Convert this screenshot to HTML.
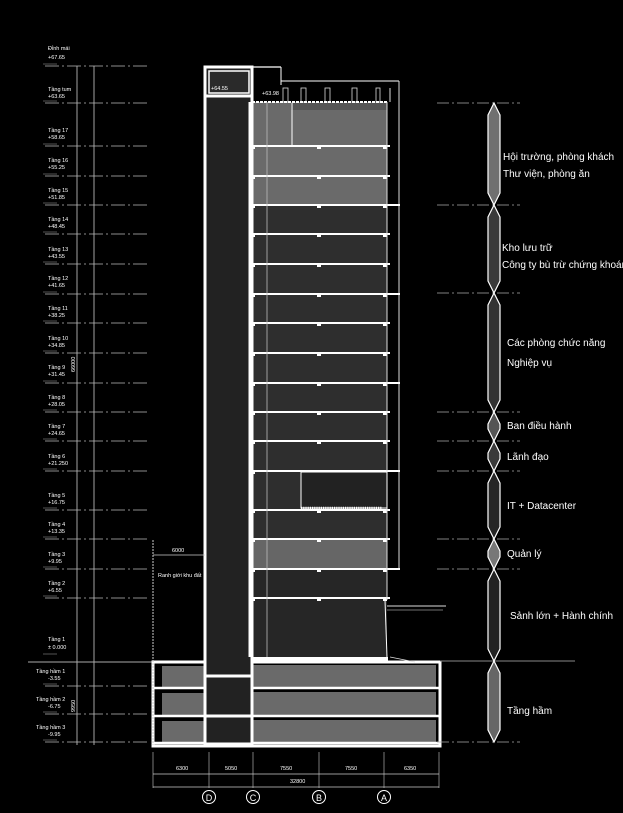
<!DOCTYPE html>
<html><head><meta charset="utf-8"><style>
html,body{margin:0;padding:0;background:#000;width:623px;height:813px;overflow:hidden}
svg{display:block}
text{font-family:"Liberation Sans",sans-serif;fill:#fff}
.s{font-size:5.5px}
.r{font-size:10px}
</style></head><body>
<svg id="g" width="623" height="813" viewBox="0 0 623 813" xmlns="http://www.w3.org/2000/svg">
<g id="shp"></g>
<g class="s">
<text x="48" y="50">Đỉnh mái</text><text x="48" y="59">+67.65</text>
<text x="48" y="91">Tầng tum</text><text x="48" y="98">+63.65</text>
<text x="48" y="132">Tầng 17</text><text x="48" y="139">+58.65</text>
<text x="48" y="162">Tầng 16</text><text x="48" y="169">+55.25</text>
<text x="48" y="192">Tầng 15</text><text x="48" y="199">+51.85</text>
<text x="48" y="221">Tầng 14</text><text x="48" y="228">+48.45</text>
<text x="48" y="251">Tầng 13</text><text x="48" y="258">+43.55</text>
<text x="48" y="280">Tầng 12</text><text x="48" y="287">+41.65</text>
<text x="48" y="310">Tầng 11</text><text x="48" y="317">+38.25</text>
<text x="48" y="340">Tầng 10</text><text x="48" y="347">+34.85</text>
<text x="48" y="369">Tầng 9</text><text x="48" y="376">+31.45</text>
<text x="48" y="399">Tầng 8</text><text x="48" y="406">+28.05</text>
<text x="48" y="428">Tầng 7</text><text x="48" y="435">+24.65</text>
<text x="48" y="458">Tầng 6</text><text x="48" y="465">+21.250</text>
<text x="48" y="497">Tầng 5</text><text x="48" y="504">+16.75</text>
<text x="48" y="526">Tầng 4</text><text x="48" y="533">+13.35</text>
<text x="48" y="556">Tầng 3</text><text x="48" y="563">+9.95</text>
<text x="48" y="585">Tầng 2</text><text x="48" y="592">+6.55</text>
<text x="48" y="641">Tầng 1</text><text x="48" y="649">± 0.000</text>
<text x="36" y="673">Tầng hầm 1</text><text x="48" y="680">-3.55</text>
<text x="36" y="701">Tầng hầm 2</text><text x="48" y="708">-6.75</text>
<text x="36" y="729">Tầng hầm 3</text><text x="48" y="736">-9.95</text>
<text transform="translate(75,372) rotate(-90)">66000</text>
<text transform="translate(75,712) rotate(-90)">9950</text>
<text x="172" y="552">6000</text>
<text x="158" y="577">Ranh giới khu đất</text>
<text x="176" y="770">6300</text><text x="225" y="770">5050</text><text x="280" y="770">7550</text><text x="345" y="770">7550</text><text x="404" y="770">6350</text>
<text x="290" y="783">32800</text>
<text x="211" y="90">+64.55</text><text x="262" y="95">+63.98</text>
</g>
<g font-size="9" text-anchor="middle">
<text x="209" y="801">D</text><text x="253" y="801">C</text><text x="319" y="801">B</text><text x="384" y="801">A</text>
</g>
<g class="r">
<text x="503" y="160">Hội trường, phòng khách</text>
<text x="503" y="177">Thư viện, phòng ăn</text>
<text x="502" y="251">Kho lưu trữ</text>
<text x="502" y="268">Công ty bù trừ chứng khoán</text>
<text x="507" y="346">Các phòng chức năng</text>
<text x="507" y="366">Nghiệp vụ</text>
<text x="507" y="429">Ban điều hành</text>
<text x="507" y="460">Lãnh đạo</text>
<text x="507" y="509">IT + Datacenter</text>
<text x="507" y="557">Quản lý</text>
<text x="510" y="619">Sảnh lớn + Hành chính</text>
<text x="507" y="714">Tầng hầm</text>
</g>
</svg>
<script>
const NS='http://www.w3.org/2000/svg';const G=document.getElementById('shp');
function A(t,a){const e=document.createElementNS(NS,t);for(const k in a)e.setAttribute(k,a[k]);G.appendChild(e);}
function l(x1,y1,x2,y2,c,w,d){const o={x1,y1,x2,y2,stroke:c||'#fff','stroke-width':w||1};if(d)o['stroke-dasharray']=d;A('line',o);}
function r(x,y,w,h,f,s,sw){A('rect',{x,y,width:w,height:h,fill:f,stroke:s||'none','stroke-width':sw||0});}
const lv=[66,103,146,176,205,234,264,294,323,353,383,412,441,471,510,539,569,598,656,686,714,742];
// left dim lines
l(77,66,77,745,'#ccc',0.8);l(94,66,94,745,'#ccc',0.8);
lv.forEach(y=>{if(y!==656)l(45,y,150,y,'#bbb',0.8,'14 3 2 3');l(43,y-2,57,y-2,'#aaa',0.5);});
l(28,662,153,662,'#aaa',1);
// basement
r(153,662,287,84,'#000','#fff',3);
[[662,687],[689,715],[717,742]].forEach(a=>{r(162,a[0]+4,43,a[1]-a[0]-4,'#6a6a6a');r(253,a[0]+3,183,a[1]-a[0]-3,'#6a6a6a');l(153,a[1]+1,440,a[1]+1,'#fff',2.5);});
// building backgrounds
r(250,102,137,103,'#6a6a6a');
r(250,205,137,334,'#2e2e2e');
r(250,539,137,30,'#666');
r(250,569,137,88,'#262626');
r(291,102,96,8,'#555');
// core
r(205,67,47,677,'#222','#fff',3);
r(209,71,40,22,'#2a2a2a','#fff',1.5);
l(205,96,252,96,'#fff',3);
l(205,676,252,676,'#fff',3);l(205,716,252,716,'#fff',3);
l(252,67,252,102,'#fff',1);l(205,67,281,67,'#fff',1.2);l(281,67,281,85,'#fff',1);
// roof parapet
l(281,81,399,81,'#fff',1);l(399,81,399,570,'#ddd',1);l(390,88,390,102,'#ddd',1);
[[283,288],[301,306],[325,330],[352,357],[376,380]].forEach(a=>{r(a[0],88,a[1]-a[0],14,'none','#ddd',0.8);});
l(252,102,388,102,'#fff',2,'3 1');
// floor slabs
[146,176,205,234,264,294,323,353,383,412,441,471,510,539,569,598].forEach(y=>{l(250,y,390,y,'#fff',2);
 [253,319,385].forEach(x=>r(x-2,y,4,3,'#fff'));});
[205,294,383,471,569].forEach(y=>l(385,y,400,y,'#fff',2));
l(250,102,250,657,'#fff',3);l(387,102,387,600,'#ddd',1);
l(267,102,267,657,'#bbb',0.8);l(292,103,292,146,'#fff',1);
// floor5 box
r(301,472,86,36,'#222','#fff',1);l(301,508,382,508,'#fff',2.5,'1.2 1');
// lobby
l(385,600,387,657,'#fff',1);l(387,606,446,606,'#ddd',1);l(387,610,443,610,'#ddd',0.6);
r(251,657,137,5,'#fff');
l(390,657,415,662,'#ddd',0.8);
// boundary
l(153,540,153,745,'#ccc',1,'2 1');l(153,555,205,555,'#ccc',0.8);
// bottom dims
[153,209,253,319,384,439].forEach(x=>{l(x,752,x,788,'#ccc',0.6);});
l(153,774,439,774,'#ccc',0.8);l(153,787,439,787,'#ccc',0.8);
[209,253,319,384].forEach(x=>{A('circle',{cx:x,cy:797,r:6.5,fill:'none',stroke:'#fff','stroke-width':1});});
// right zones
const zb=[103,205,293,412,441,471,539,569,661,742];
const zc=['#707070','#3a3a3a','#333','#555','#3a3a3a','#262626','#777','#222','#666'];
zb.forEach(y=>{if(y!==661)l(437,y,520,y,'#aaa',0.8,'12 3 2 3');});
l(440,661,575,661,'#888',1);
for(let i=0;i<9;i++){const a=zb[i],b=zb[i+1],h=b-a,t=Math.min(12,h/2);
 A('polygon',{points:`494,${a} 500,${a+t} 500,${b-t} 494,${b} 488,${b-t} 488,${a+t}`,fill:zc[i],stroke:'#fff','stroke-width':1.2});}
</script>
</body></html>
